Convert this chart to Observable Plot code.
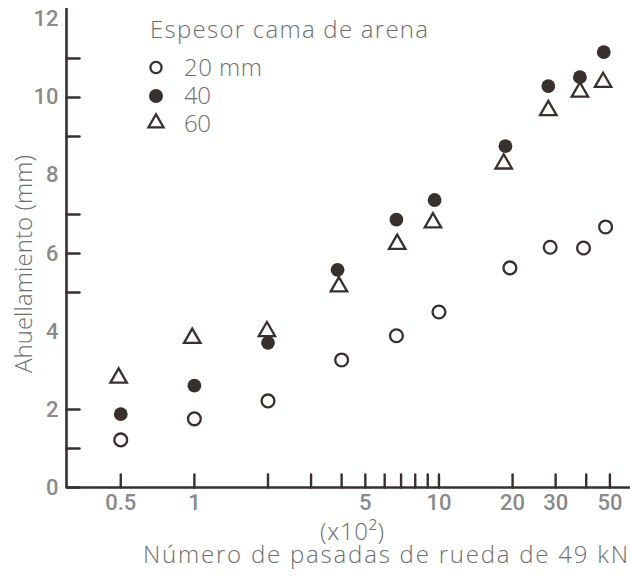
<!DOCTYPE html>
<html><head><meta charset="utf-8">
<script src="https://cdn.jsdelivr.net/npm/d3@7"></script>
<script src="https://cdn.jsdelivr.net/npm/@observablehq/plot@0.6"></script>
<style>
body{margin:0;background:#fff;}
#wrap{position:relative;width:630px;height:579px;}
#overlay{position:absolute;left:0;top:0;pointer-events:none;}
</style></head><body><div id="wrap"></div>
<script>
// ---- data ----
const seriesNames = ["20 mm", "40", "60"];
const legendTitle = "Espesor cama de arena";

const x20 = [0.5, 1, 2, 4, 6.7, 10, 19.5, 28.5, 39, 48];
const y20 = [1.22, 1.76, 2.22, 3.27, 3.89, 4.5, 5.63, 6.16, 6.14, 6.68];

const x40 = [0.5, 1, 2, 3.85, 6.7, 9.6, 18.7, 28, 37.7, 47.2];
const y40 = [1.88, 2.61, 3.71, 5.58, 6.87, 7.37, 8.75, 10.29, 10.52, 11.16];

const x60 = [0.49, 0.98, 1.98, 3.9, 6.75, 9.45, 18.4, 28, 37.7, 46.9];
const y60 = [2.81, 3.83, 4.0, 5.15, 6.24, 6.79, 8.3, 9.67, 10.14, 10.39];

const xTickValues = [0.5, 1, 2, 3, 4, 5, 6, 7, 8, 9, 10, 20, 30, 40, 50];
const xTickLabels = [0.5, 1, 5, 10, 20, 30, 50];
const yTickValues = [0, 1, 2, 5, 6, 7, 9, 10, 11];
const yTickLabels = [0, 2, 4, 6, 8, 10, 12];

const yTitle = "Ahuellamiento (mm)";
const xTitleTop = "(x10²)";
const xTitle = "Número de pasadas de rueda de 49 kN";

// ---- build tables ----
const toRows = (xs, ys, s) => xs.map((x, i) => ({x, y: ys[i], s}));
const d20 = toRows(x20, y20, seriesNames[0]);
const d40 = toRows(x40, y40, seriesNames[1]);
const d60 = toRows(x60, y60, seriesNames[2]);

const ink = "#37302f";
const gray = "#8a8a8a";
const lightText = "#6e6e6e";
const font = "Roboto, 'Liberation Sans', sans-serif";
const lightFont = "'Open Sans', Roboto, sans-serif";
const tickShape = {draw(ctx, l) { ctx.moveTo(0, 0); ctx.lineTo(0, -l); }};

const xDomain = [0.3, 60.7];

const chart = Plot.plot({
  width: 630,
  height: 579,
  marginLeft: 66,
  marginRight: 0,
  marginTop: 8,
  marginBottom: 92,
  style: {color: gray, fontFamily: font, fontSize: "22px", fontWeight: 500, background: "white"},
  x: {type: "log", domain: xDomain, axis: null},
  y: {domain: [0, 12.28], axis: null},
  marks: [
    Plot.ruleY([0], {stroke: ink, strokeWidth: 2.6}),
    Plot.ruleX([xDomain[0]], {stroke: ink, strokeWidth: 2.6}),
    Plot.vector(xTickValues, {x: d => d, frameAnchor: "bottom", length: 13, rotate: 0, anchor: "start", shape: tickShape, stroke: ink, strokeWidth: 2.4}),
    Plot.vector(yTickValues, {y: d => d, frameAnchor: "left", length: 13, rotate: 90, anchor: "start", shape: tickShape, stroke: ink, strokeWidth: 2.4}),
    Plot.text(xTickLabels, {x: d => d, text: d => `${d}`, frameAnchor: "bottom", dy: 15, lineAnchor: "middle", textAnchor: "middle", fill: gray}),
    Plot.axisY({ticks: yTickLabels, tickSize: 0, tickPadding: 8, tickFormat: d => `${d}`, label: null}),
    Plot.dot(d20, {x: "x", y: "y", r: 6.4, stroke: ink, strokeWidth: 2.3, fill: "white"}),
    Plot.dot(d60, {x: "x", y: "y", symbol: "triangle", r: 6.1, stroke: ink, strokeWidth: 2.3, fill: "white"}),
    Plot.dot(d40, {x: "x", y: "y", r: 6.9, fill: ink, stroke: "none"})
  ]
});

const wrap = document.getElementById("wrap");
wrap.appendChild(chart);

// ---- titles and legend overlay ----
const ov = d3.select(wrap).append("svg").attr("id", "overlay").attr("width", 630).attr("height", 579)
  .style("font-family", lightFont).style("font-weight", 300).style("font-size", "24px");

function label(txt, x, y, width, anchor = "start", rotate = 0) {
  ov.append("text")
    .attr("transform", `translate(${x},${y}) rotate(${rotate})`)
    .attr("dy", "0.35em")
    .attr("text-anchor", anchor)
    .attr("fill", lightText)
    .attr("textLength", width)
    .attr("lengthAdjust", "spacing")
    .text(txt);
}

label(yTitle, 24, 264, 218, "middle", -90);
label(xTitleTop, 352, 532, 64, "middle");
label(xTitle, 385.5, 555, 485, "middle");
label(legendTitle, 150, 30, 278, "start");

const rowsY = [67.5, 96, 124];
const rowW = [78, 27, 27];
const symbols = [
  {type: d3.symbolCircle, r: 5.6, fill: "white", stroke: ink},
  {type: d3.symbolCircle, r: 7, fill: ink, stroke: "none"},
  {type: d3.symbolTriangle, r: 5.6, fill: "white", stroke: ink}
];
seriesNames.forEach((name, i) => {
  const s = symbols[i];
  ov.append("path")
    .attr("transform", `translate(156,${rowsY[i] - (i === 2 ? 1 : 0)})`)
    .attr("d", d3.symbol(s.type, Math.PI * s.r * s.r)())
    .attr("fill", s.fill).attr("stroke", s.stroke).attr("stroke-width", 2.3);
  label(name, 184, rowsY[i], rowW[i], "start");
});
</script>
</body></html>
